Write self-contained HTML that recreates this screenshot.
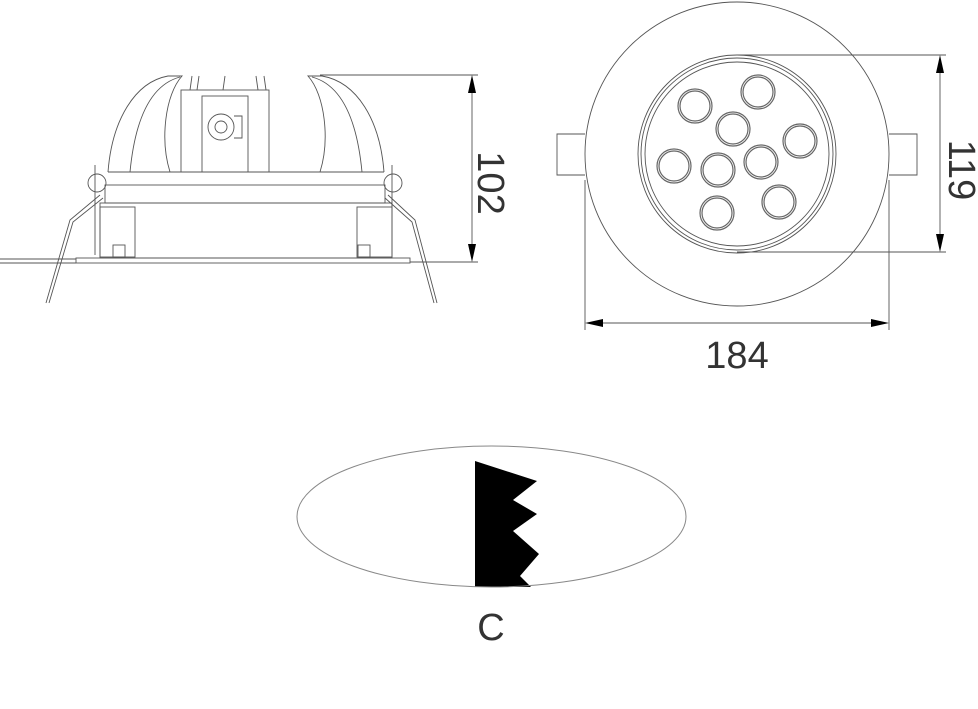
<!DOCTYPE html>
<html><head><style>html,body{margin:0;padding:0;background:#fff}svg{display:block}</style></head><body>
<svg width="978" height="709" viewBox="0 0 978 709" xmlns="http://www.w3.org/2000/svg">
<g fill="none" stroke="#555" stroke-width="0.9">
<!-- LEFT side view -->
<line x1="0" y1="259" x2="76" y2="259"/><line x1="0" y1="263" x2="76" y2="263"/>
<rect x="76" y="258" width="334" height="5"/>
<rect x="100" y="203" width="292" height="55"/>
<rect x="105" y="185" width="280" height="18"/>
<path d="M108 172 C112 120 135 82 168 76 L182 76 C165 95 160 140 170 172"/>
<path d="M130 172 C135 120 150 85 180 77"/>
<path d="M384 172 C380 120 357 82 322 76 L308 76 C325 95 330 140 320 172"/>
<path d="M362 172 C357 120 342 85 312 77"/>
<rect x="181" y="90" width="88" height="82"/>
<rect x="202" y="96" width="46" height="76"/>
<circle cx="221" cy="127" r="13"/><circle cx="221" cy="127" r="6"/>
<path d="M234 116 h8 v22 h-8"/>
<path d="M190 90 l2 -14 M197 90 l2 -14 M223 90 l2 -14 M258 90 l-2 -14 M266 90 l-2 -14"/>
<line x1="108" y1="172" x2="384" y2="172"/>
<circle cx="97" cy="183" r="9"/><circle cx="393" cy="183" r="9"/>
<line x1="95" y1="165" x2="95" y2="255"/><line x1="392" y1="165" x2="392" y2="255"/>
<path d="M100 195 L70 220 L46 303 M103 198 L73 222 L49 303"/>
<path d="M388 195 L415 220 L437 303 M385 198 L412 222 L434 303"/>
<rect x="100" y="207" width="35" height="50"/><rect x="357" y="207" width="35" height="50"/>
<rect x="113" y="245" width="12" height="12"/><rect x="358" y="245" width="12" height="12"/>
<line x1="320" y1="75" x2="478" y2="75"/><line x1="410" y1="262" x2="478" y2="262"/>
<line x1="472" y1="80" x2="472" y2="258"/>
<!-- RIGHT top view -->
<circle cx="737" cy="154" r="152"/>
<circle cx="737" cy="154" r="99"/><circle cx="737" cy="154" r="96"/><circle cx="737" cy="154" r="92"/>
<path d="M585 134 H557 V175 H585"/><path d="M889 134 H917 V175 H889"/>
<line x1="585" y1="180" x2="585" y2="330"/><line x1="889" y1="180" x2="889" y2="330"/>
<line x1="590" y1="323" x2="884" y2="323"/>
<line x1="737" y1="55" x2="946" y2="55"/><line x1="737" y1="252" x2="946" y2="252"/>
<line x1="940" y1="60" x2="940" y2="247"/>
</g>
<g fill="none" stroke="#666" stroke-width="1.2">
<circle cx="695" cy="106" r="17"/><circle cx="695" cy="106" r="15"/>
<circle cx="758" cy="92" r="17"/><circle cx="758" cy="92" r="15"/>
<circle cx="733" cy="129" r="17"/><circle cx="733" cy="129" r="15"/>
<circle cx="800" cy="141" r="17"/><circle cx="800" cy="141" r="15"/>
<circle cx="674" cy="166" r="17"/><circle cx="674" cy="166" r="15"/>
<circle cx="718" cy="170" r="17"/><circle cx="718" cy="170" r="15"/>
<circle cx="761" cy="162" r="17"/><circle cx="761" cy="162" r="15"/>
<circle cx="779" cy="202" r="17"/><circle cx="779" cy="202" r="15"/>
<circle cx="717" cy="213" r="17"/><circle cx="717" cy="213" r="15"/>
</g>
<g fill="#000">
<polygon points="472,75 468,93 476,93"/><polygon points="472,262 468,244 476,244"/>
<polygon points="940,55 936,73 944,73"/><polygon points="940,252 936,234 944,234"/>
<polygon points="585,323 603,319 603,327"/><polygon points="889,323 871,319 871,327"/>
<polygon points="475,461 537,481 513,500 537,514 513,531 539,554 520,576 531,587 475,587"/>
</g>
<ellipse cx="491.5" cy="516.5" rx="194.5" ry="70.5" fill="none" stroke="#888" stroke-width="1"/>
<g font-family="'Liberation Sans',sans-serif" fill="#333" font-size="38">
<text x="737" y="368" text-anchor="middle">184</text>
<text transform="translate(478,183) rotate(90)" text-anchor="middle">102</text>
<text transform="translate(949,170) rotate(90)" text-anchor="middle">119</text>
<text x="491" y="640" text-anchor="middle">C</text>
</g>
</svg>
</body></html>
